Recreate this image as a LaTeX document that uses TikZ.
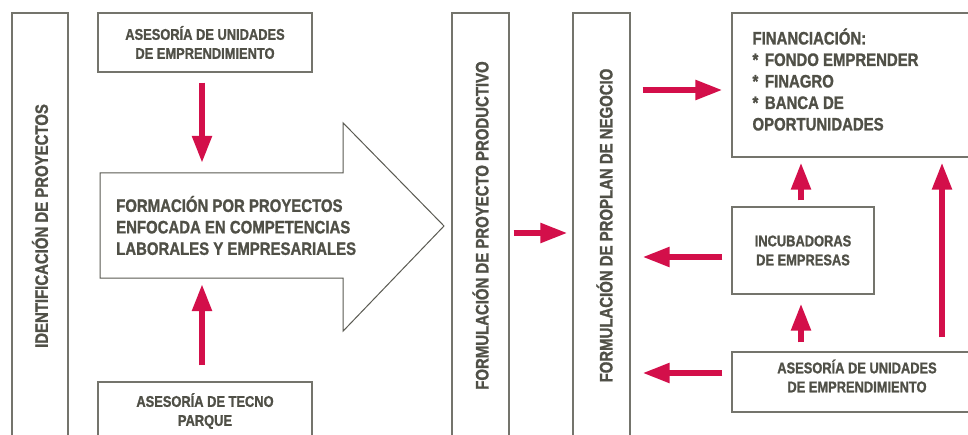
\documentclass[tikz,border=0pt]{standalone}
\usepackage{fontspec}
\setmainfont{Liberation Sans}
\newfontfamily\condbold{Liberation Sans Bold}[FakeStretch=0.83,FakeBold=1.2]
\usetikzlibrary{arrows.meta,calc}
\definecolor{linegrey}{HTML}{74746C}
\definecolor{txtgrey}{HTML}{505047}
\definecolor{outlinegrey}{HTML}{5A5A52}
\definecolor{accent}{HTML}{D30F4A}
\newcommand\szsmall{\fontsize{15.5}{19}\selectfont}
\newcommand\szbig{\fontsize{18}{21.5}\selectfont}
\newcommand\bullast{{*}\hspace{2.5pt} }
\begin{document}
\begin{tikzpicture}[x=1pt,y=-1pt,
  box/.style={draw=linegrey,line width=1.4pt,text=txtgrey,font=\condbold\szsmall,align=center,inner sep=0pt},
  colbox/.style={box,font=\condbold\szbig},
  txt/.style={text=txtgrey,inner sep=0pt},
  redarr/.style={draw=accent,line width=5.5pt,-{Triangle[length=27pt,width=19pt]}}]
\useasboundingbox (0,0) rectangle (968,435);
\clip (0,0) rectangle (968,435);
\fill[white] (0,0) rectangle (968,435);

% vertical columns
\node[colbox,minimum width=56pt,minimum height=426pt] (idp) at (40,226)
  {\rotatebox{90}{IDENTIFICACIÓN DE PROYECTOS}};
\node[colbox,minimum width=57pt,minimum height=425pt] (col2) at (480.5,225.5)
  {\rotatebox{90}{FORMULACIÓN DE PROYECTO PRODUCTIVO}};
\node[colbox,minimum width=57pt,minimum height=425pt] (col3) at (601.5,225.5)
  {\hspace{6pt}\rotatebox{90}{FORMULACIÓN DE PROPLAN DE NEGOCIO}};

% left boxes
\node[box,minimum width=214pt,minimum height=59pt] (aue) at (205,42.5)
  {ASESORÍA DE UNIDADES\\DE EMPRENDIMIENTO};
\node[box,minimum width=214pt,minimum height=58pt] (tecno) at (205,411)
  {ASESORÍA DE TECNO\\PARQUE};

% big arrow with text
\node[txt,font=\condbold\szbig,align=left,anchor=west,inner xsep=16pt,
      minimum height=105pt] (form) at (100,225.5)
  {FORMACIÓN POR PROYECTOS\\ENFOCADA EN COMPETENCIAS\\LABORALES Y EMPRESARIALES};
\coordinate (tip) at ($(form.west)+(344,0.5)$);
\draw[outlinegrey,line width=1pt,line join=miter]
  (form.south west) -- (form.north west) -- ($(form.north west)+(243,0)$)
  -- ($(form.north west)+(243,-50)$) -- (tip) -- ($(form.south west)+(243,53)$)
  -- ($(form.south west)+(243,0)$) -- cycle;

% right boxes
\node[box,minimum width=258pt,minimum height=144pt] (fin) at (861,85) {};
\node[txt,font=\condbold\szbig,align=left,anchor=north west] (fintxt)
  at ($(fin.north west)+(21,16)$)
  {FINANCIACIÓN:\\\bullast FONDO EMPRENDER\\\bullast FINAGRO\\\bullast BANCA DE\\OPORTUNIDADES};
\node[box,minimum width=142pt,minimum height=87pt] (incub) at (803,250.5)
  {INCUBADORAS\\DE EMPRESAS};
\node[box,minimum width=250pt,minimum height=60pt] (aue2) at (857,382) {};
\node[txt,font=\condbold\szsmall,align=center] (aue2txt) at ($(aue2.center)+(0,-6)$)
  {ASESORÍA DE UNIDADES\\DE EMPRENDIMIENTO};

% arrows
\draw[redarr] ($(aue.south)+(-3,10)$) -- ($(form.north west -| aue.south)+(-3,-10)$);
\draw[redarr] ($(tecno.north)+(-3,-16)$) -- ($(form.south west -| tecno.north)+(-3,6)$);
\draw[redarr] ($(col2.east)+(4,7.5)$) -- ($(col3.west)+(-5,7.5)$);
\draw[redarr] ($(col3.east |- fin.west)+(12,5)$) -- ($(fin.west)+(-9,5)$);
\draw[redarr] ($(incub.west)+(-9,6.5)$) -- ($(col3.east |- incub.west)+(12,6.5)$);
\draw[redarr] ($(aue2.west)+(-9,-9)$) -- ($(col3.east |- aue2.west)+(12,-9)$);
\draw[redarr] ($(incub.north)+(-2,-6)$) -- ($(fin.south -| incub.north)+(-2,5)$);
\draw[redarr] ($(aue2.north -| incub.north)+(-2,-9)$) -- ($(incub.south)+(-2,9)$);
\draw[redarr] ($(aue2.north)+(85,-14)$) -- ($(fin.south -| aue2.north)+(85,5)$);
\end{tikzpicture}
\end{document}
